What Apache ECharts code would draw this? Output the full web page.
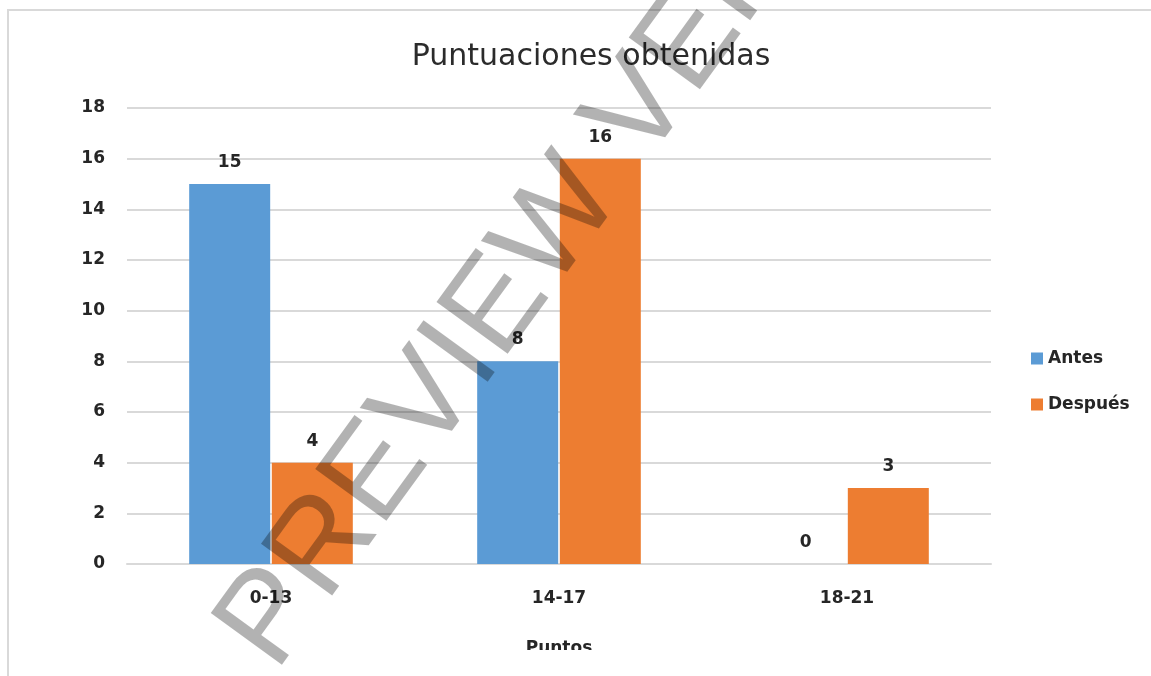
<!DOCTYPE html>
<html>
<head>
<meta charset="utf-8">
<script src="https://cdn.jsdelivr.net/npm/echarts@6/dist/echarts.min.js"></script>
<style>
  html, body { margin: 0; padding: 0; background: #fff; }
  #chart { width: 1151px; height: 676px; }
</style>
</head>
<body>
<div id="chart"></div>
<script>
// Score ranges and number of students in each, before and after
const categories = ['0-13', '14-17', '18-21'];
const antes = [15, 8, 0];
const despues = [4, 16, 3];
const seriesNames = ['Antes', 'Después'];
const yMin = 0, yMax = 18, yStep = 2;

const textColor = '#262626';
const fontFamily = 'DejaVu Sans';

const chart = echarts.init(document.getElementById('chart'), null, { renderer: 'canvas' });

const labelStyle = {
  show: true,
  position: 'top',
  distance: 13,
  color: textColor,
  fontFamily: fontFamily,
  fontWeight: 'bold',
  fontSize: 17
};

chart.setOption({
  backgroundColor: '#ffffff',
  animation: false,
  title: {
    text: 'Puntuaciones obtenidas',
    left: 586,
    top: 37,
    textAlign: 'center',
    textStyle: { color: '#2b2b2b', fontFamily: fontFamily, fontSize: 30, fontWeight: 'normal' }
  },
  legend: {
    orient: 'vertical',
    left: 1031,
    top: 350,
    padding: 0,
    itemWidth: 12,
    itemHeight: 12,
    itemGap: 29,
    itemStyle: { borderWidth: 0 },
    textStyle: { color: textColor, fontFamily: fontFamily, fontWeight: 'bold', fontSize: 17, padding: [0, 0, 0, 0] },
    data: seriesNames.map(n => ({ name: n, icon: 'rect' }))
  },
  grid: { left: 127, right: 160, top: 108, bottom: 112 },
  xAxis: {
    type: 'category',
    data: categories,
    name: 'Puntos',
    nameLocation: 'middle',
    nameGap: 76,
    nameTextStyle: { color: textColor, fontFamily: fontFamily, fontWeight: 'bold', fontSize: 17 },
    axisLine: { show: true, lineStyle: { color: '#d9d9d9', width: 2 } },
    axisTick: { show: false },
    axisLabel: { color: textColor, fontFamily: fontFamily, fontWeight: 'bold', fontSize: 17, margin: 26 }
  },
  yAxis: {
    type: 'value',
    min: yMin,
    max: yMax,
    interval: yStep,
    axisLine: { show: false },
    axisTick: { show: false },
    axisLabel: { color: textColor, fontFamily: fontFamily, fontWeight: 'bold', fontSize: 17, margin: 22 },
    splitLine: { lineStyle: { color: '#d9d9d9', width: 2 } }
  },
  series: [
    {
      name: seriesNames[0],
      type: 'bar',
      data: antes,
      barWidth: 81,
      barGap: '2%',
      itemStyle: { color: '#5b9bd5' },
      label: labelStyle
    },
    {
      name: seriesNames[1],
      type: 'bar',
      data: despues,
      barWidth: 81,
      barGap: '2%',
      itemStyle: { color: '#ed7d31' },
      label: labelStyle
    }
  ],
  graphic: [
    // outer frame of the chart area (top and left edges)
    {
      type: 'rect',
      shape: { x: 8, y: 10, width: 1300, height: 800 },
      style: { fill: 'none', stroke: '#d9d9d9', lineWidth: 2 },
      z: 50,
      silent: true
    },
    // axis title is cut off at the lower edge of the frame
    {
      type: 'rect',
      shape: { x: 480, y: 650, width: 160, height: 40 },
      style: { fill: '#ffffff' },
      z: 60,
      silent: true
    },
    // diagonal watermark
    {
      type: 'text',
      x: 299,
      y: 690,
      rotation: 54 * Math.PI / 180,
      style: {
        text: 'PREVIEW VERSION',
        fontFamily: 'Liberation Sans',
        fontSize: 128,
        fill: 'rgba(0,0,0,0.3)',
        align: 'left',
        verticalAlign: 'bottom'
      },
      z: 100,
      silent: true
    }
  ]
});
</script>
</body>
</html>
